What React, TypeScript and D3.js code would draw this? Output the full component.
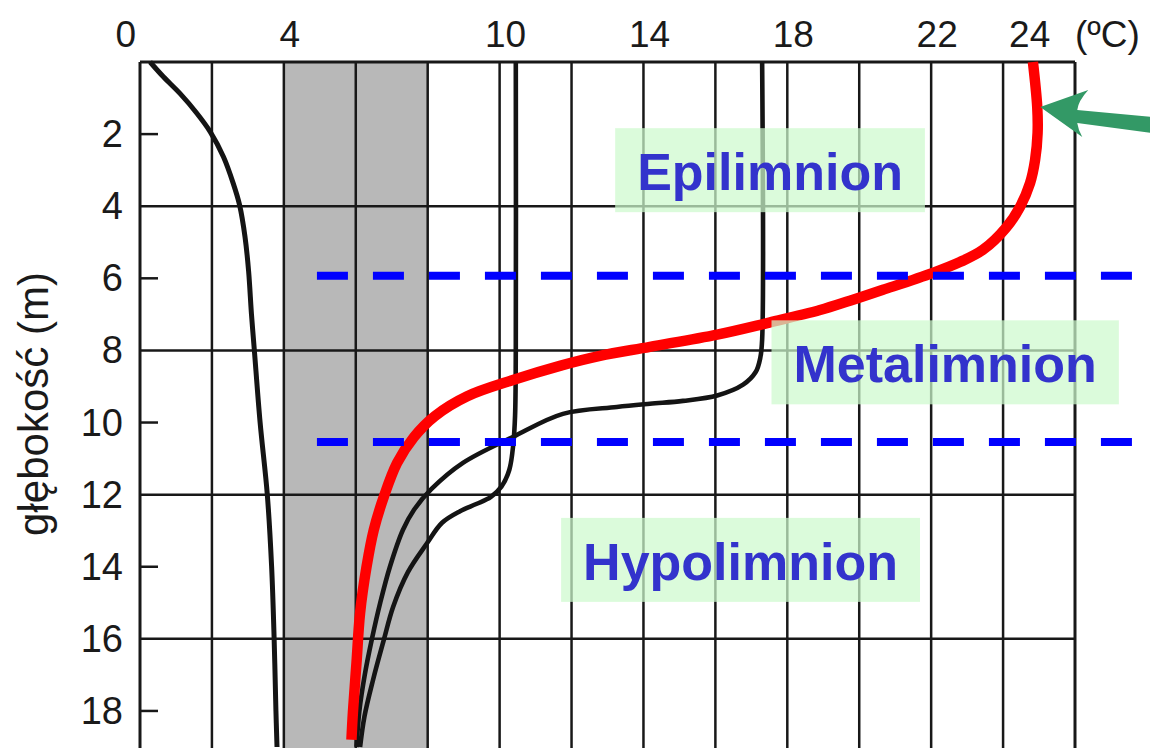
import { useEffect, useRef } from 'react';
import * as d3 from 'd3';

const WIDTH = 1150;
const HEIGHT = 748;

// axis / grid definitions
const tempGrid = [0, 2, 4, 6, 8, 10, 12, 14, 16, 18, 20, 22, 24, 26];
const tempLabels = [0, 4, 10, 14, 18, 22, 24];
const unitLabel = '(ºC)';
const depthLabels = [2, 4, 6, 8, 10, 12, 14, 16, 18];
const depthGrid = [0, 4, 8, 12, 16];
const depthMinorTicks = [2, 6, 10, 14, 18];
const shadedBand = [4, 8];
const layerBoundaries = [5.93, 10.54];
const yTitle = 'głębokość (m)';

type P = [number, number]; // [temperature °C, depth m]

// black profile 1 (coldest)
const profileCold: P[] = [
  [0.28, 0], [0.65, 0.41], [1.11, 0.87], [1.58, 1.42], [1.95, 1.93], [2.32, 2.63],
  [2.59, 3.36], [2.77, 3.97], [2.92, 4.85], [3.02, 5.8], [3.1, 7.0], [3.18, 8.0],
  [3.34, 10.0], [3.54, 12.0], [3.66, 14.0], [3.73, 16.0], [3.78, 18.0], [3.81, 19.0],
];

// black profile 2 (≈10.4 °C mixed layer)
const profileMid: P[] = [
  [10.45, 0], [10.45, 8], [10.43, 9.8], [10.38, 10.6], [10.27, 11.31], [10.05, 11.78],
  [9.75, 12.07], [9.35, 12.26], [8.9, 12.46], [8.4, 12.78], [7.98, 13.35],
  [7.45, 14.15], [7.04, 15.11], [6.78, 16.03], [6.48, 17.14], [6.24, 18.16], [6.12, 19.0],
];

// black profile 3 (≈17.3 °C mixed layer)
const profileWarm: P[] = [
  [17.3, 0], [17.3, 7.7], [17.25, 8.2], [17.12, 8.6], [16.77, 8.95], [16.05, 9.25],
  [15.1, 9.4], [14.18, 9.48], [13.26, 9.57], [11.76, 9.76], [10.37, 10.4], [8.98, 11.12],
  [8.1, 11.85], [7.62, 12.42], [7.31, 12.98], [6.95, 14.0], [6.68, 15.0], [6.45, 16.0],
  [6.25, 17.0], [6.1, 18.0], [6.02, 19.0],
];

// red summer profile
const summerProfile: P[] = [
  [24.83, 0], [24.95, 1.25], [24.96, 1.97], [24.89, 2.72], [24.75, 3.36], [24.47, 4.02],
  [24.08, 4.6], [23.44, 5.21], [22.8, 5.55], [22.05, 5.85], [20.66, 6.32], [19.74, 6.62],
  [18.91, 6.88], [17.44, 7.24], [16.05, 7.56], [14.18, 7.9], [12.79, 8.15], [11.7, 8.42],
  [10.37, 8.82], [9.1, 9.27], [8.2, 9.82], [7.62, 10.4], [7.15, 11.12], [6.78, 12.06],
  [6.5, 12.98], [6.3, 14.0], [6.12, 15.28], [6.02, 16.67], [5.92, 18.05], [5.88, 18.8],
];

const layerNames = ['Epilimnion', 'Metalimnion', 'Hypolimnion'];
const layerLabelTemp = [17.52, 22.39, 16.7];
const layerLabelDepth = [3.0, 8.33, 13.81];
const arrowTarget: P = [24.95, 1.25];

const FONT = '"Liberation Sans", Arial, Helvetica, sans-serif';

export default function App() {
  const ref = useRef<SVGSVGElement | null>(null);

  useEffect(() => {
    const svg = d3.select(ref.current);
    svg.selectAll('*').remove();

    const x = d3.scaleLinear().domain([0, 26]).range([140, 1075]);
    const y = d3.scaleLinear().domain([0, 19]).range([62, 747]);

    svg.append('rect').attr('width', WIDTH).attr('height', HEIGHT).attr('fill', '#ffffff');

    // shaded band
    svg.append('rect')
      .attr('x', x(shadedBand[0]))
      .attr('y', y(0))
      .attr('width', x(shadedBand[1]) - x(shadedBand[0]))
      .attr('height', HEIGHT - y(0))
      .attr('fill', '#b8b8b8');

    // grid
    const grid = svg.append('g').attr('stroke', '#181818');
    grid.selectAll('line.v').data(tempGrid).join('line')
      .attr('class', 'v')
      .attr('x1', (d) => x(d)).attr('x2', (d) => x(d))
      .attr('y1', y(0)).attr('y2', HEIGHT)
      .attr('stroke-width', (d) => (d === 0 || d === 26 ? 3 : 2.5));
    grid.selectAll('line.h').data(depthGrid).join('line')
      .attr('class', 'h')
      .attr('x1', x(0)).attr('x2', x(26))
      .attr('y1', (d) => y(d)).attr('y2', (d) => y(d))
      .attr('stroke-width', (d) => (d === 0 ? 3 : 2.5));
    grid.selectAll('line.t').data(depthMinorTicks).join('line')
      .attr('class', 't')
      .attr('x1', x(0)).attr('x2', x(0) + 18)
      .attr('y1', (d) => y(d)).attr('y2', (d) => y(d))
      .attr('stroke-width', 2.5);

    // axis labels
    const top = svg.append('g').attr('font-family', FONT).attr('font-size', 37).attr('fill', '#1a1a1a');
    top.selectAll('text').data(tempLabels).join('text')
      .attr('x', (d) => (d === 0 ? x(d) - 4 : x(d) + 6))
      .attr('y', 47)
      .attr('text-anchor', (d) => (d === 0 ? 'end' : d === 24 ? 'start' : 'middle'))
      .text((d) => String(d));
    top.append('text').attr('x', x(26)).attr('y', 47).attr('text-anchor', 'start').text(unitLabel);

    const left = svg.append('g').attr('font-family', FONT).attr('font-size', 38).attr('fill', '#1a1a1a');
    left.selectAll('text').data(depthLabels).join('text')
      .attr('x', 123)
      .attr('y', (d) => y(d) + 13)
      .attr('text-anchor', 'end')
      .text((d) => String(d));

    svg.append('text')
      .attr('transform', `translate(48, ${404}) rotate(-90)`)
      .attr('text-anchor', 'middle')
      .attr('font-family', FONT)
      .attr('font-size', 42)
      .attr('fill', '#1a1a1a')
      .text(yTitle);

    // profiles
    const line = d3.line<P>()
      .x((p) => x(p[0]))
      .y((p) => y(p[1]))
      .curve(d3.curveCatmullRom.alpha(0.5));

    const blacks = [profileCold, profileMid, profileWarm];
    svg.append('g').selectAll('path').data(blacks).join('path')
      .attr('d', (d) => line(d) as string)
      .attr('fill', 'none')
      .attr('stroke', '#141414')
      .attr('stroke-width', (_d, i) => (i === 0 ? 5 : 4.6))
      .attr('stroke-linejoin', 'round');

    svg.append('path')
      .attr('d', line(summerProfile) as string)
      .attr('fill', 'none')
      .attr('stroke', '#ff0000')
      .attr('stroke-width', 10.5)
      .attr('stroke-linecap', 'butt')
      .attr('stroke-linejoin', 'round');

    // layer label boxes
    const labels = svg.append('g');
    layerNames.forEach((name, i) => {
      const cx = x(layerLabelTemp[i]);
      const cy = y(layerLabelDepth[i]);
      const g = labels.append('g');
      const rect = g.append('rect')
        .attr('y', cy - 42)
        .attr('height', 84)
        .attr('fill', 'rgb(205,250,205)')
        .attr('fill-opacity', 0.72);
      const t = g.append('text')
        .attr('x', cx)
        .attr('y', cy - 42 + 62)
        .attr('text-anchor', 'middle')
        .attr('font-family', FONT)
        .attr('font-weight', 'bold')
        .attr('font-size', 52)
        .attr('fill', '#3333cc')
        .text(name);
      const len = (t.node() as SVGTextElement).getComputedTextLength();
      const w = len + 44;
      rect.attr('x', cx - w / 2).attr('width', w);
    });

    // boundaries
    svg.append('g').selectAll('line').data(layerBoundaries).join('line')
      .attr('x1', x(4.92)).attr('x2', WIDTH)
      .attr('y1', (d) => y(d)).attr('y2', (d) => y(d))
      .attr('stroke', '#0000ff')
      .attr('stroke-width', 8)
      .attr('stroke-dasharray', '31 25');

    // arrow
    const tx = x(arrowTarget[0]) + 3;
    const ty = y(arrowTarget[1]);
    svg.append('path')
      .attr('transform', `translate(${tx}, ${ty})`)
      .attr('d', 'M0,0 L48,-17 Q38,-6 37,3 L112,10 L112,26 L37,16 Q38,23 42,30 Z')
      .attr('fill', '#339966');
  }, []);

  return (
    <svg
      ref={ref}
      width={WIDTH}
      height={HEIGHT}
      style={{ position: 'absolute', left: 0, top: 0, display: 'block' }}
    />
  );
}
